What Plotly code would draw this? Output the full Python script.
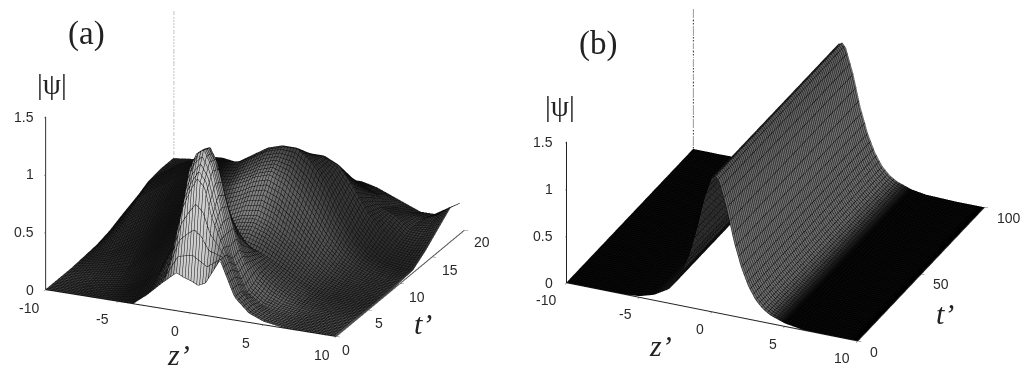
import numpy as np
import plotly.graph_objects as go

# ---- panel (a) values
z_a = [-10,-8,-6,-5,-4,-3,-2,-1,-.5,0,.5,1,2,3,4,5,6,7,8,9,10]
t_a = [0,1,2,3,4,6,8,10,12,14,16,18,20]
psi_a = [
 [0,0,0,0,0,.1,.22,.33,.3,.28,.25,.28,.5,.2,.08,.03,.01,0,0,0,0],
 [0,0,.01,.03,.08,.16,.3,.85,1.0,1.12,1.05,.8,.5,.2,.08,.03,.01,0,0,0,0],
 [0,0,.03,.06,.12,.22,.45,1.13,1.28,1.33,1.2,.95,.42,.15,.06,.03,.01,0,0,0,0],
 [0,.01,.06,.12,.2,.3,.45,1.05,1.25,1.3,1.18,.9,.45,.18,.09,.04,.02,0,0,0,0],
 [0,.03,.1,.2,.3,.35,.4,.7,.9,.98,.85,.68,.38,.22,.13,.07,.03,.01,0,0,0],
 [.01,.1,.25,.35,.42,.4,.32,.3,.31,.32,.33,.34,.3,.24,.17,.1,.05,.02,.01,0,0],
 [.02,.25,.42,.52,.55,.45,.38,.42,.45,.48,.49,.5,.45,.36,.26,.16,.08,.04,.02,.01,0],
 [.05,.38,.55,.62,.65,.6,.6,.65,.68,.72,.74,.76,.7,.58,.42,.26,.14,.07,.03,.01,.01],
 [.1,.45,.62,.68,.72,.7,.72,.8,.84,.88,.9,.92,.92,.82,.65,.42,.24,.12,.05,.03,.02],
 [.14,.4,.55,.6,.62,.6,.62,.65,.67,.7,.72,.75,.78,.78,.72,.55,.35,.2,.1,.08,.1],
 [.2,.35,.4,.42,.42,.42,.42,.45,.46,.48,.5,.52,.55,.55,.52,.42,.3,.25,.15,.15,.2],
 [.22,.3,.3,.3,.28,.28,.3,.3,.31,.32,.33,.35,.38,.38,.35,.3,.22,.18,.15,.2,.3],
 [.22,.25,.22,.2,.2,.2,.2,.22,.23,.25,.26,.27,.28,.28,.25,.2,.15,.1,.1,.18,.25],
]
column_tone_a = [.42,.36,.26,.18,.14,.18,.5,.9,.95,.95,.95,.9,.7,.62,.6,.6,.55,.5,.5,.5,.5]
row_tone_a = [1,1,1,1,.85,.7,.75,.75,.5,.55,.7,.8,.8]

# ---- panel (b) values
z_b = [-10,-8,-6,-5,-4,-3,-2.5,-2,-1.5,-1,-.5,0,.25,.5,1,1.5,2,2.5,3,3.5,4,5,6,7,8,10]
t_b = [0,25,50,75,100]
profile_row = [0,0,.005,.015,.06,.15,.24,.38,.58,.87,1.2,1.43,1.45,1.4,1.14,.8,.54,.35,.22,.14,.09,.035,.01,.005,0,0]
psi_b = [profile_row for _ in t_b]
column_tone_b = [0,0,0,0,0,.25,.45,.55,.55,.55,.55,.55,.55,.55,.55,.58,.6,.62,.65,.65,.5,0,0,0,0,0]
row_tone_b = [1,1,1,1,1]

z_ticks = [-10,-5,0,5,10]
t_ticks_a = [0,5,10,15,20]
t_ticks_b = [0,50,100]
psi_ticks = [0,.5,1,1.5]
psi_tick_text = ["0","0.5","1","1.5"]
psi_span = [0,1.5]

FONT = "Liberation Sans"
SERIF = "Liberation Serif"
LIGHT = dict(ambient=1, diffuse=0, specular=0, roughness=1, fresnel=0)

def shade(z, t, psi, tone, row_tone):
    h = np.array(psi, float)
    dt, dz = np.gradient(h, t, z)
    face = np.clip(.62 - .25*dz + 1.0*dt, .3, .85)
    return face*np.outer(row_tone, tone)

def surf(z, t, psi, scene, dz, dt, tone, row_tone):
    return go.Surface(x=z, y=t, z=psi, scene=scene, surfacecolor=shade(z,t,psi,tone,row_tone), cmin=0, cmax=1,
        colorscale=[[0,"#000000"],[1,"#ffffff"]], showscale=False,
        lighting=LIGHT, hoverinfo="skip",
        contours=dict(
            x=dict(show=True, start=min(z), end=max(z), size=dz, color="#0d0d0d", width=1),
            y=dict(show=True, start=min(t), end=max(t), size=dt, color="#0d0d0d", width=1),
        ))

def line3(x, y, zz, scene, color, dash, width):
    return go.Scatter3d(x=x, y=y, z=zz, mode="lines", scene=scene, showlegend=False,
                        hoverinfo="skip", line=dict(color=color, dash=dash, width=width))

fig = go.Figure()
fig.add_trace(surf(z_a, t_a, psi_a, "scene", .2, .25, column_tone_a, row_tone_a))
fig.add_trace(surf(z_b, t_b, psi_b, "scene2", .2, 1.25, column_tone_b, row_tone_b))
fig.add_trace(line3([-10,-10],[0,0],psi_span,"scene","#333333","solid",2))
fig.add_trace(line3([-10,-10],[20,20],psi_span,"scene","#aaaaaa","dot",3))
fig.add_trace(line3([-10,10],[0,0],[0,0],"scene","#222222","solid",2))
fig.add_trace(line3([10,10],[0,20],[0,0],"scene","#555555","solid",2))
fig.add_trace(line3([-10,-10],[0,0],psi_span,"scene2","#222222","solid",2))
fig.add_trace(line3([-10,-10],[100,100],psi_span,"scene2","#333333","dashdot",2))
fig.add_trace(line3([-10,10],[0,0],[0,0],"scene2","#222222","solid",2))
fig.add_trace(line3([10,10],[0,100],[0,0],"scene2","#222222","solid",2))

def axis(rng, ticks):
    return dict(range=rng, tickvals=ticks, title=dict(text=""), showgrid=False, zeroline=False,
             showline=False, showbackground=False, ticks="outside", ticklen=4, tickcolor="#555555",
             showticklabels=False, showspikes=False)

def tag(x, y, z, text, dx, dy, anchor="center"):
    return dict(x=x, y=y, z=z, text=text, showarrow=False, xshift=dx, yshift=-dy, xanchor=anchor, yanchor="middle",
                font=dict(family=FONT, size=14, color="#2a2a2a"))

def tick_tags(tmax, tticks, psi_dx, z_shift, t_shift):
    out = [tag(-10, 0, v, s, psi_dx, 0, "right") for v, s in zip(psi_ticks, psi_tick_text)]
    out += [tag(v, 0, 0, str(v), dx, dy) for v, (dx, dy) in zip(z_ticks, z_shift)]
    out += [tag(10, v, 0, str(v), dx, dy) for v, (dx, dy) in zip(tticks, t_shift)]
    return out

def scene(dom, tmax, tticks, s, az, eye, psi_dx, z_shift, t_shift):
    return dict(domain=dom, xaxis=axis([-10,10], z_ticks), yaxis=axis([0,tmax], tticks),
        zaxis=axis(psi_span, psi_ticks),
        annotations=tick_tags(tmax, tticks, psi_dx, z_shift, t_shift),
        aspectmode="manual", aspectratio=dict(x=s,y=s,z=s*az),
        camera=dict(projection=dict(type="orthographic"), eye=eye,
                    center=dict(x=0,y=0,z=0), up=dict(x=0,y=0,z=1)))

fig.update_layout(width=1030, height=368, margin=dict(l=0,r=0,t=0,b=0),
    paper_bgcolor="white", showlegend=False,
    scene=scene(dict(x=[0,.495],y=[.057,1]),20,t_ticks_a,1.83,.585,dict(x=.75,y=-1.70,z=.73), -10,
                [(-17,18),(-16,18),(-16,18),(-17,18),(-14,18)], [(10,13),(11,13),(17,14),(18,13),(18,12)]),
    scene2=scene(dict(x=[.506,1],y=[.054,.997]),100,t_ticks_b,1.83,.5,dict(x=.71,y=-1.63,z=.92), -12,
                [(-21,17),(-14,17),(-12,17),(-12,17),(-16,17)], [(16,11),(20,10),(25,11)]),
)

def note(txt, x, y, size, italic=False):
    s = f"<i>{txt}</i>" if italic else txt
    fig.add_annotation(text=s, x=x, y=y, xref="paper", yref="paper", xanchor="center", yanchor="middle",
        showarrow=False, font=dict(family=SERIF, size=size, color="#222222"))

for txt,px,py,size,it in [("(a)",86,33,33,False),("|ψ|",52,84,29,False),("z’",178,354,30,True),("t’",423,323,30,True),
                          ("(b)",598,44,33,False),("|ψ|",560,106,29,False),("z’",660,345,30,True),("t’",945,313,30,True)]:
    note(txt, px/1030, 1-py/368, size, it)

fig.write_html("out.html", config=dict(displayModeBar=False), post_script="document.body.style.margin='0';")
